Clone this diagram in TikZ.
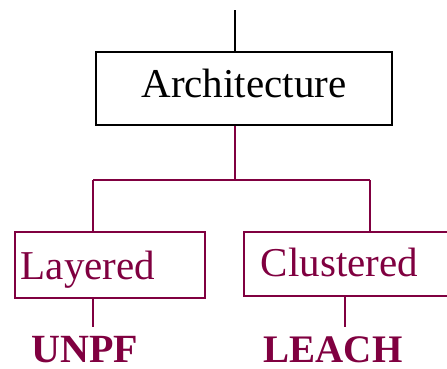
\documentclass[tikz,border=0pt]{standalone}
\usepackage{fontspec}
\setmainfont{Liberation Serif}
\definecolor{wine}{RGB}{128,0,64}
\tikzset{
  box/.style={draw, line width=1.8pt, rectangle, anchor=north west, inner sep=0pt},
  big/.style={font=\fontsize{41}{45}\selectfont},
  leaf/.style={text=wine, inner sep=0pt, anchor=base, font=\bfseries\fontsize{39}{44}\selectfont},
  link/.style={draw=wine, line width=1.8pt},
}
\begin{document}
\begin{tikzpicture}[x=1pt, y=-1pt]
  \useasboundingbox (0,0) rectangle (447,368);

  % root box
  \node[box, draw=black, big, minimum width=296pt, minimum height=73pt,
        text height=29pt, text depth=10pt] (arch) at (95,51) {Architecture};
  \coordinate (top) at (235,10);
  \draw[line width=1.8pt] (top) -- (top |- arch.north);

  % branch points
  \coordinate (j)  at (235,180);
  \coordinate (jl) at (93,180);
  \coordinate (jr) at (370,180);

  % child boxes
  \node[box, draw=wine, text=wine, big, minimum width=190pt, minimum height=66pt,
        text width=178pt, align=left, inner xsep=6pt,
        text height=34pt, text depth=4pt] (lay) at (14,231) {Layered};
  \node[box, draw=wine, text=wine, big, minimum width=207pt, minimum height=64pt,
        text width=173pt, align=left, inner xsep=17pt,
        text height=30pt, text depth=4pt] (clu) at (243,231) {Clustered};

  % leaves
  \node[leaf, font=\bfseries\fontsize{40}{44}\selectfont] (unpf) at (85,362) {UNPF};
  \node[leaf] (leach) at (333,362) {LEACH};
  \coordinate (ul) at (93,327);
  \coordinate (ll) at (345,327);

  % connectors
  \draw[link] (arch.south -| j) -- (j);
  \draw[link] (jl) -- (jr);
  \draw[link] (jl) -- (jl |- lay.north);
  \draw[link] (jr) -- (jr |- clu.north);
  \draw[link] (lay.south -| ul) -- (ul);
  \draw[link] (clu.south -| ll) -- (ll);
\end{tikzpicture}
\end{document}
